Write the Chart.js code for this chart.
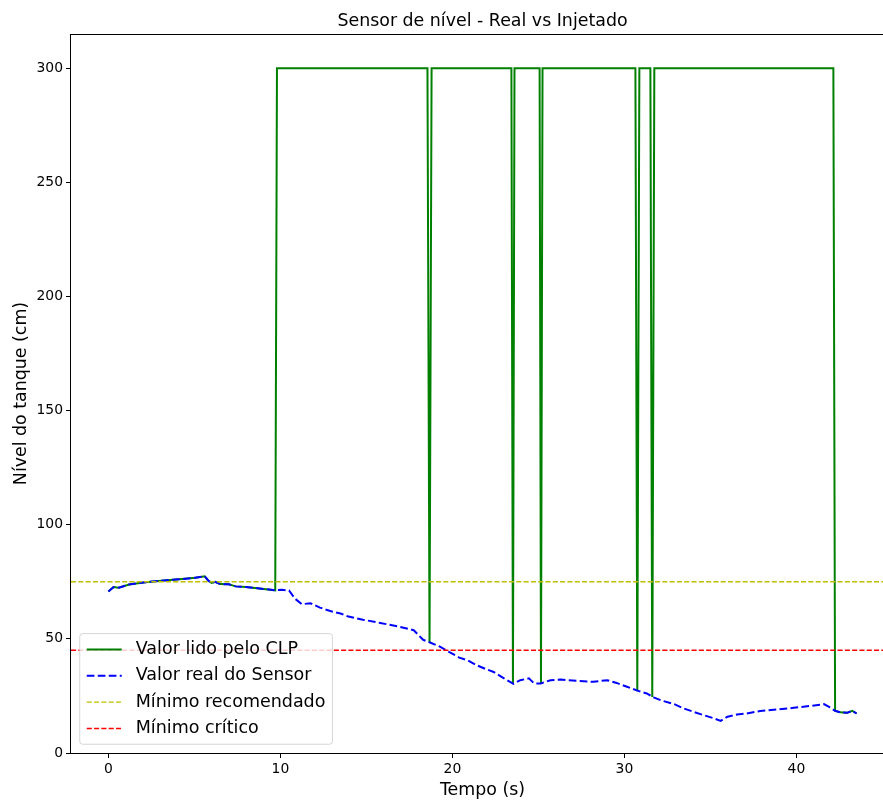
<!DOCTYPE html>
<html lang="pt">
<head>
<meta charset="utf-8">
<title>Sensor de nível - Real vs Injetado</title>
<script src="https://cdn.jsdelivr.net/npm/chart.js@4.4.1/dist/chart.umd.min.js"></script>
<style>
    html, body { margin: 0; padding: 0; background: #fff; overflow: hidden; }
    canvas { display: block; }
</style>
</head>
<body>
<canvas id="nivelChart" width="900" height="800"></canvas>
<script>
// Sensor readings: time (s) and real tank level (cm)
const sensorTime = [
    0.0, 0.3, 0.6, 1.2, 2.15, 3.1, 4.1, 5.05, 5.6, 5.8, 6.0, 6.2, 6.5, 7.0, 7.4, 8.0, 8.9, 9.7,
    10.1, 10.5, 10.85, 11.25, 11.75, 12.3, 12.9, 13.5, 13.9, 14.8, 15.8, 16.8, 17.75, 18.3, 18.7,
    19.3, 19.8, 20.4, 20.9, 21.4, 22.0, 22.4, 23.0, 23.55, 23.95, 24.45, 24.75, 25.15, 25.7, 26.3,
    27.25, 28.2, 29.0, 29.55, 30.15, 30.8, 31.3, 31.7, 32.2, 32.9, 33.45, 34.0, 34.6, 35.2, 35.6,
    36.0, 36.55, 37.1, 37.9, 38.9, 39.85, 40.8, 41.6, 41.9, 42.25, 42.55, 42.95, 43.25, 43.5,
];
const sensorLevel = [
    70.8, 72.7, 72.4, 73.8, 74.8, 75.5, 76.1, 76.8, 77.4, 75.6, 74.5, 75.0, 74.0, 73.9, 73.0, 72.7, 72.0, 71.3,
    71.5, 71.2, 67.6, 65.2, 65.6, 63.7, 62.2, 61.1, 59.9, 58.4, 57.0, 55.5, 53.8, 49.6, 48.4,
    46.5, 44.3, 41.8, 40.6, 38.5, 36.6, 35.5, 32.7, 30.3, 31.9, 32.7, 30.5, 30.5, 31.9, 32.2,
    31.6, 31.2, 31.9, 30.7, 29.0, 27.2, 26.1, 24.4, 22.9, 21.4, 19.5, 18.1, 16.6, 15.2, 14.1,
    15.9, 16.9, 17.3, 18.4, 19.1, 19.8, 20.6, 21.4, 20.2, 18.5, 17.8, 17.6, 18.5, 17.3,
];

// Value read by the PLC (injected value = 300)
const clpTime = [
    0.0, 0.3, 0.6, 1.2, 2.15, 3.1, 4.1, 5.05, 5.6, 5.8, 6.0, 6.2, 6.5, 7.0, 7.4, 8.0, 8.9, 9.7,
    9.8, 18.55, 18.67, 18.79, 23.43, 23.52, 23.61, 25.07, 25.15, 25.24, 30.64, 30.75, 30.87,
    31.51, 31.62, 31.74, 42.15, 42.25, 42.55, 42.95, 43.25, 43.5,
];
const clpLevel = [
    70.8, 72.7, 72.4, 73.8, 74.8, 75.5, 76.1, 76.8, 77.4, 75.6, 74.5, 75.0, 74.0, 73.9, 73.0, 72.7, 72.0, 71.3,
    300, 300, 48.5, 300, 300, 30.3, 300, 300, 30.5, 300, 300, 27.0, 300,
    300, 24.5, 300, 300, 18.5, 17.8, 17.6, 18.5, 17.3,
];

// Reference levels (cm)
const minRecomendado = 75;
const minCritico = 45;

// Axis limits and ticks
const xLimits = [-2.175, 45.675];
const yLimits = [0, 315];
const xTicks = [0, 10, 20, 30, 40];
const yTicks = [0, 50, 100, 150, 200, 250, 300];

const FONT = "DejaVu Sans";

const toPoints = (xs, ys) => xs.map((x, i) => ({ x: x, y: ys[i] }));
const hLine = (y) => [{ x: xLimits[0], y: y }, { x: xLimits[1], y: y }];

// Axes frame (left, top, bottom spines)
const frame = {
    id: "frame",
    beforeDatasetsDraw(chart) {
        const { ctx, chartArea: a } = chart;
        ctx.save();
        ctx.strokeStyle = "#000";
        ctx.lineWidth = 1;
        ctx.strokeRect(Math.round(a.left) - 0.5, Math.round(a.top) + 0.5,
            Math.round(a.right - a.left), Math.round(a.bottom - a.top));
        ctx.restore();
    },
};

// Title centred over the plot area
const axesTitle = {
    id: "axesTitle",
    afterDraw(chart) {
        const { ctx, chartArea: a } = chart;
        ctx.save();
        ctx.font = `17.4px "${FONT}"`;
        ctx.fillStyle = "#000";
        ctx.textAlign = "center";
        ctx.textBaseline = "alphabetic";
        ctx.fillText("Sensor de nível - Real vs Injetado", (a.left + a.right) / 2, a.top - 8);
        ctx.restore();
    },
};

// Legend box in the lower left corner of the axes
const legendBox = {
    id: "legendBox",
    afterDraw(chart) {
        const { ctx, chartArea: a } = chart;
        const fs = 17.5;
        const pad = 0.4 * fs, handleLen = 2 * fs, textPad = 0.8 * fs, rowH = 17.6, gap = 0.5 * fs;
        const items = chart.data.datasets;
        ctx.save();
        ctx.font = `${fs}px "${FONT}"`;
        const textW = Math.max(...items.map(d => ctx.measureText(d.label).width));
        const w = pad * 2 + handleLen + textPad + textW;
        const h = pad * 2 + items.length * rowH + (items.length - 1) * gap;
        const x = a.left + 0.5 * fs;
        const y = a.bottom - 0.5 * fs - h;

        ctx.beginPath();
        ctx.roundRect(x, y, w, h, 3);
        ctx.fillStyle = "rgba(255,255,255,0.8)";
        ctx.fill();
        ctx.strokeStyle = "rgba(204,204,204,0.8)";
        ctx.lineWidth = 1;
        ctx.stroke();

        items.forEach((d, i) => {
            const cy = y + pad + i * (rowH + gap) + rowH / 2;
            ctx.beginPath();
            ctx.setLineDash(d.borderDash || []);
            ctx.strokeStyle = d.borderColor;
            ctx.lineWidth = d.borderWidth;
            ctx.moveTo(x + pad, cy);
            ctx.lineTo(x + pad + handleLen, cy);
            ctx.stroke();
            ctx.setLineDash([]);
            ctx.fillStyle = "#000";
            ctx.textBaseline = "middle";
            ctx.fillText(d.label, x + pad + handleLen + textPad, cy);
        });
        ctx.restore();
    },
};

const tickFont = { family: FONT, size: 13.9 };
const labelFont = { family: FONT, size: 17.4 };

const ctx = document.getElementById("nivelChart").getContext("2d");
new Chart(ctx, {
    type: "line",
    data: {
        datasets: [
            {
                label: "Valor lido pelo CLP",
                data: toPoints(clpTime, clpLevel),
                borderColor: "#008000",
                borderWidth: 2,
                order: 4,
            },
            {
                label: "Valor real do Sensor",
                data: toPoints(sensorTime, sensorLevel),
                borderColor: "#0000ff",
                borderWidth: 2,
                borderDash: [7.7, 3.3],
                order: 3,
            },
            {
                label: "Mínimo recomendado",
                data: hLine(minRecomendado),
                borderColor: "#bfbf00",
                borderWidth: 1.4,
                borderDash: [5.1, 2.2],
                order: 2,
            },
            {
                label: "Mínimo crítico",
                data: hLine(minCritico),
                borderColor: "#ff0000",
                borderWidth: 1.4,
                borderDash: [5.1, 2.2],
                order: 1,
            },
        ],
    },
    options: {
        responsive: false,
        animation: false,
        devicePixelRatio: 1,
        layout: { padding: { top: 34, right: 6, left: 0, bottom: 0 } },
        elements: {
            point: { radius: 0 },
            line: { tension: 0, fill: false },
        },
        plugins: {
            legend: { display: false },
            tooltip: { enabled: false },
        },
        scales: {
            x: {
                type: "linear",
                min: xLimits[0],
                max: xLimits[1],
                afterBuildTicks: s => { s.ticks = xTicks.map(v => ({ value: v })); },
                afterFit: s => { s.height = 47; },
                ticks: { font: tickFont, color: "#000", padding: 3, maxRotation: 0 },
                grid: { drawOnChartArea: false, tickLength: 5, color: "#000" },
                border: { display: false },
                title: { display: true, text: "Tempo (s)", font: labelFont, color: "#000", padding: { top: 0, bottom: -1 } },
            },
            y: {
                type: "linear",
                min: yLimits[0],
                max: yLimits[1],
                afterBuildTicks: s => { s.ticks = yTicks.map(v => ({ value: v })); },
                afterFit: s => { s.width = 71; },
                ticks: { font: tickFont, color: "#000", padding: 3 },
                grid: { drawOnChartArea: false, tickLength: 5, color: "#000" },
                border: { display: false },
                title: { display: true, text: "Nível do tanque (cm)", font: labelFont, color: "#000", padding: { top: 11, bottom: 0 } },
            },
        },
    },
    plugins: [frame, axesTitle, legendBox],
});
</script>
</body>
</html>
